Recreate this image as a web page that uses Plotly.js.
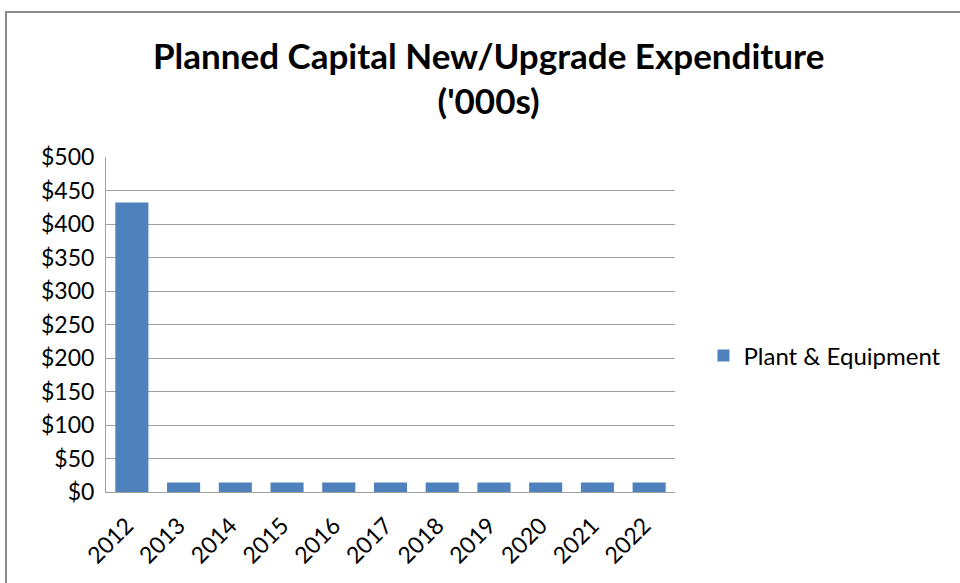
<!DOCTYPE html>
<html><head><meta charset="utf-8">
<script src="https://cdn.plot.ly/plotly-3.0.1.min.js"></script>
<style>
html,body{margin:0;padding:0;background:#fff;}
#frame{position:absolute;left:5px;top:11px;width:980px;height:600px;border:2px solid #8c8c8c;box-sizing:border-box;}
#chart{position:absolute;left:0;top:0;width:960px;height:583px;}
</style></head>
<body>
<div id="frame"></div>
<div id="chart"></div>
<script>
const years = ["2012","2013","2014","2015","2016","2017","2018","2019","2020","2021","2022"];
const plantEquipment = [432, 14, 14, 14, 14, 14, 14, 14, 14, 14, 14];
const seriesName = "Plant & Equipment";
const titleText = "Planned Capital New/Upgrade Expenditure<br>('000s)";

const font = "Lato, 'Open Sans', sans-serif";
Plotly.newPlot('chart', [{
  type: 'bar', x: years, y: plantEquipment, name: seriesName,
  marker: {color: '#4f81bd'}, showlegend: true
}], {
  width: 960, height: 583,
  paper_bgcolor: 'rgba(0,0,0,0)', plot_bgcolor: 'rgba(0,0,0,0)',
  margin: {l: 106, r: 285, t: 157, b: 91},
  bargap: 0.36,
  title: {text: titleText, font: {family: font, size: 35, color: '#000', weight: 'bold'}, x: 0.509, xref: 'container', xanchor: 'center', y: 0.882, yref: 'container', yanchor: 'middle'},
  xaxis: {type: 'category', tickangle: -45, tickfont: {family: font, size: 23, color: '#000'},
    showline: true, linecolor: '#a0a0a0', linewidth: 1, ticks: '', showgrid: false, ticklabelstandoff: 10, ticklabelshift: -5},
  yaxis: {range: [0, 500], dtick: 50, tickprefix: '$', tickfont: {family: font, size: 23, color: '#000'},
    showgrid: true, gridcolor: '#a0a0a0', showline: true, linecolor: '#a0a0a0', ticks: '', zeroline: false, ticklabelstandoff: 6},
  legend: {x: 1.05, xanchor: 'left', y: 0.406, yanchor: 'middle', font: {family: font, size: 24, color: '#000'}, itemwidth: 30}
}, {displayModeBar: false});
</script>
</body></html>
